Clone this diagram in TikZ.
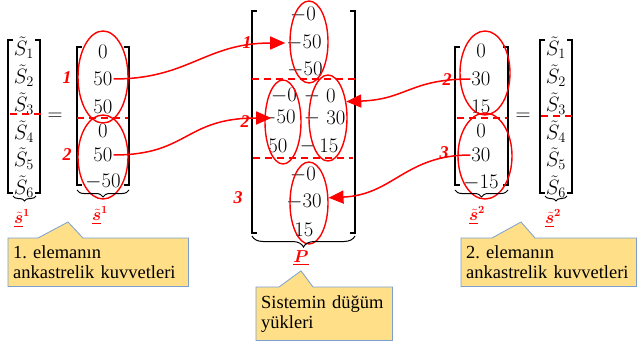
\documentclass[tikz,border=0pt]{standalone}
\usepackage{amsmath}
\usepackage{bm}
\usepackage{fontspec}
\setmainfont{Liberation Serif}
\usepackage{tikz}
\usetikzlibrary{calc, shapes.geometric, arrows.meta, decorations.pathreplacing, backgrounds}
\definecolor{ptRed}{HTML}{FF0000}
\definecolor{noteFill}{HTML}{FFDF87}
\definecolor{noteEdge}{HTML}{7B9FCF}
\frenchspacing

\begin{document}
\begin{tikzpicture}[x=1pt, y=-1pt,
    ent/.style={inner sep=1pt, font=\fontsize{22}{24}\selectfont},
    num/.style={ptRed, font=\fontsize{18}{20}\selectfont\bfseries\itshape},
    lab/.style={ptRed, inner sep=1pt, font=\fontsize{16}{18}\selectfont},
    ring/.style={ellipse, draw=ptRed, line width=1.4pt, inner sep=0pt},
    cut/.style={ptRed, dash pattern=on 7pt off 5pt, line width=1.4pt},
    brk/.style={line width=1.2pt},
    brc/.style={decorate, decoration={brace, mirror, amplitude=#1}, line width=1pt},
    lnk/.style={ptRed, line width=1.5pt, -{Triangle[length=15pt, width=13pt]}},
    note/.style={anchor=north west, align=left, inner xsep=5pt, inner ysep=0pt,
        font=\fontsize{18.5}{20}\selectfont},
    notebox/.style={fill=noteFill, draw=noteEdge, line width=0.8pt}]
    \useasboundingbox (0,0) rectangle (637,342);

    \foreach \xl/\xr/\yt/\yb in {8/40/40/193, 77/129/47/185, 252/355/11/233, 455/508/47/185, 540/572/40/193} {
        \draw[brk] (\xl+5,\yt) -- (\xl,\yt) -- (\xl,\yb) -- (\xl+5,\yb);
        \draw[brk] (\xr-5,\yt) -- (\xr,\yt) -- (\xr,\yb) -- (\xr-5,\yb);
    }

    \foreach \i/\y in {1/48, 2/76, 3/104, 4/132, 5/159, 6/187} {
        \node[ent] (sa\i) at (24,\y) {$\tilde{S}_{\i}$};
        \node[ent] (sb\i) at (556,\y) {$\tilde{S}_{\i}$};
    }
    \foreach \i/\y/\v in {1/52/0, 2/79/50, 3/107/50, 4/131/0, 5/155/50, 6/182/-50}
        \node[ent] (m\i) at (103,\y) {$\v$};
    \foreach \i/\y/\v in {1/51/0, 2/79/30, 3/107/15, 4/131/0, 5/155/30, 6/183/-15}
        \node[ent] (n\i) at (481,\y) {$\v$};

    \node[ent] (eq1) at (55,117) {$=$};
    \node[ent] (eq2) at (523,117) {$=$};

    \node[ent] (pa1) at (303,15) {$-0$};
    \node[ent] (pa2) at (304,43) {$-50$};
    \node[ent] (pa3) at (305,70) {$-50$};
    \node[ent] (pb1) at (284,96) {$-0$};
    \node[ent] (pb2) at (278,118) {$-50$};
    \node[ent] (pb3) at (278,146) {$50$};
    \node[ent] (pm1) at (312,96) {$-$};
    \node[ent] (pm2) at (312,118) {$-$};
    \node[ent] (pm3) at (308,146) {$-$};
    \node[ent] (pr1) at (331,96) {$0$};
    \node[ent] (pr2) at (336,118) {$30$};
    \node[ent] (pr3) at (329,146) {$15$};
    \node[ent] (pd1) at (303,175) {$-0$};
    \node[ent] (pd2) at (304,202) {$-30$};
    \node[ent] (pd3) at (304,230) {$15$};

    \draw[cut] (10,114) -- (42,114);
    \draw[cut] (77,118) -- (128,118);
    \draw[cut] (252,79) -- (355,79);
    \draw[cut] (253,158) -- (353,158);
    \draw[cut] (457,118) -- (507,118);
    \draw[cut] (541,116) -- (575,116);

    \foreach \n/\x/\y/\w/\h in {e1a/103/77/50/92, e1b/103/157/50/84, eP1/309/42/38/82, eP2/283/122/36/84,
        eP3/328/118/38/86, eP4/309/203/38/82, e2a/485/73/50/84, e2b/485/156/54/86}
        \node[ring, minimum width=\w pt, minimum height=\h pt] (\n) at (\x,\y) {};

    \node[num] (k1a) at (67,78) {1};
    \node[num] (k1b) at (67,155) {2};
    \node[num] (kP1) at (247,43) {1};
    \node[num] (kP2) at (245,122) {2};
    \node[num] (kP3) at (238,198) {3};
    \node[num] (k2a) at (447,80) {2};
    \node[num] (k2b) at (444,153) {3};

    \draw[brc=5pt] (13,196) -- (36,196);
    \draw[brc=7pt] (77,190) -- (129,190);
    \draw[brc=11pt] (252,236) -- (355,236);
    \draw[brc=7pt] (455,190) -- (508,190);
    \draw[brc=5pt] (545,196) -- (567,196);

    \node[lab] (u1) at (22,218) {$\underline{\tilde{\bm s}}^{\bm 1}$};
    \node[lab] (v1) at (100,215) {$\underline{\tilde{\bm s}}^{\bm 1}$};
    \node[lab] (pl) at (301,258) {$\underline{\bm P}$};
    \node[lab] (v2) at (477,215) {$\underline{\tilde{\bm s}}^{\bm 2}$};
    \node[lab] (u2) at (553,218) {$\underline{\tilde{\bm s}}^{\bm 2}$};

    \draw[lnk] (m2.east) .. controls +(75,0) and +(-80,0) .. (pa2.west);
    \draw[lnk, shorten >=-12pt] (m5.east) .. controls +(75,0) and +(-75,0) .. (pb2.west);
    \draw[lnk] (n2.west) .. controls +(-60,0) and +(60,-2) .. (eP3.42);
    \draw[lnk] (n5.west) .. controls +(-65,0) and +(65,-3) .. (eP4.15);

    \coordinate (t1) at (68,222);
    \coordinate (t3) at (521,222);
    \node[note, text width=170pt, minimum height=48pt] (c1) at (8,238) {1. elemanın\\ankastrelik kuvvetleri};
    \node[note, text width=126pt, minimum height=53pt] (c2) at (256,287) {Sistemin düğüm\\yükleri};
    \node[note, text width=165pt, minimum height=48pt] (c3) at (461,238) {2. elemanın\\ankastrelik kuvvetleri};
    \begin{scope}[on background layer]
        \draw[notebox] (c1.north west) -- ++(30,0) -- (t1) -- ($(c1.north west)+(75,0)$)
            -- (c1.north east) -- (c1.south east) -- (c1.south west) -- cycle;
        \draw[notebox] (c2.north west) -- ++(23,0) -- ([yshift=-4pt]pl.south) -- ($(c2.north west)+(57,0)$)
            -- (c2.north east) -- (c2.south east) -- (c2.south west) -- cycle;
        \draw[notebox] (c3.north west) -- ++(31,0) -- (t3) -- ($(c3.north west)+(74,0)$)
            -- (c3.north east) -- (c3.south east) -- (c3.south west) -- cycle;
    \end{scope}
\end{tikzpicture}
\end{document}
